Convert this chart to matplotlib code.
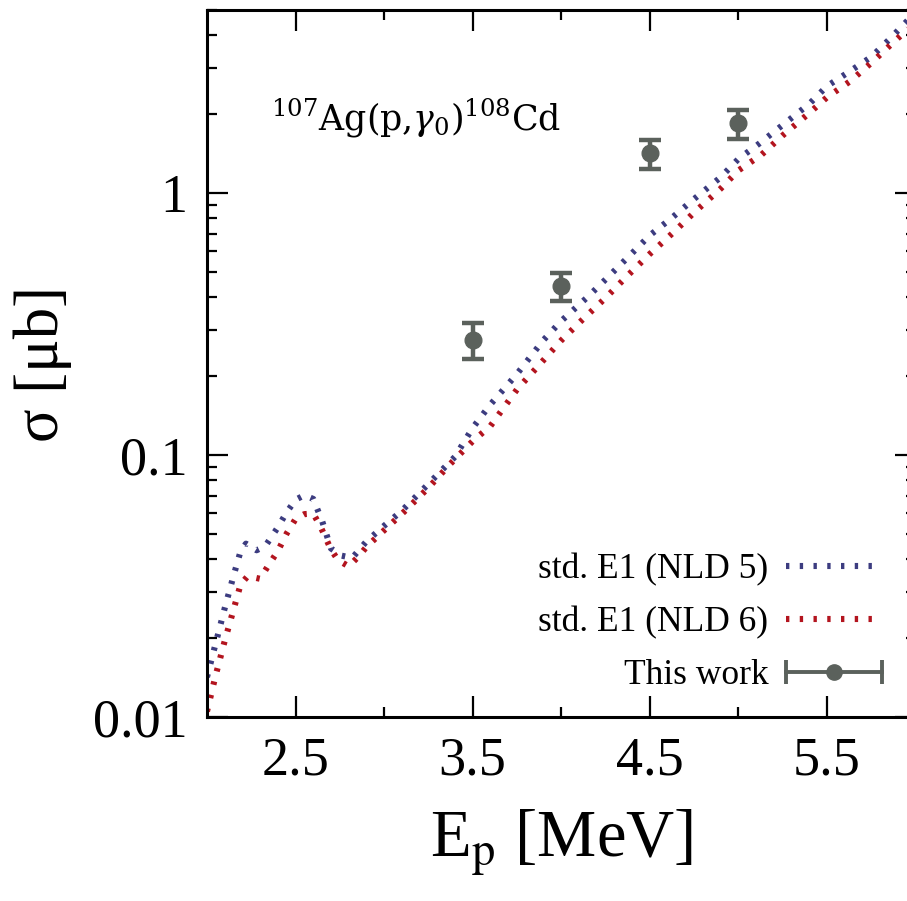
import matplotlib
matplotlib.use("Agg")
import matplotlib.pyplot as plt
from matplotlib.legend_handler import HandlerBase
from matplotlib.lines import Line2D
from matplotlib.ticker import NullFormatter

# standard E1 strength, level density model 5
e_nld5 = [2.0, 2.05, 2.1, 2.15, 2.19, 2.22, 2.28, 2.33, 2.4, 2.45, 2.5, 2.55, 2.6,
          2.65, 2.7, 2.76, 2.82, 2.9, 3.0, 3.1, 3.25, 3.4, 3.5, 3.6, 3.75, 3.9,
          4.0, 4.15, 4.25, 4.4, 4.5, 4.62, 4.75, 4.9, 5.0, 5.12, 5.25, 5.4, 5.5,
          5.63, 5.75, 5.85, 6.0]
sigma_nld5 = [0.0142, 0.0192, 0.026, 0.0346, 0.043, 0.0459, 0.0433, 0.045, 0.053,
              0.0605, 0.0675, 0.0703, 0.068, 0.056, 0.044, 0.0413, 0.0405, 0.0468,
              0.0537, 0.0613, 0.0776, 0.0985, 0.127, 0.156, 0.204, 0.275, 0.325,
              0.402, 0.468, 0.59, 0.69, 0.80, 0.95, 1.15, 1.35, 1.55, 1.82, 2.19,
              2.56, 2.92, 3.31, 3.85, 4.9]

# standard E1 strength, level density model 6
e_nld6 = [2.0, 2.05, 2.1, 2.15, 2.19, 2.23, 2.3, 2.34, 2.4, 2.45, 2.5, 2.55, 2.6,
          2.64, 2.7, 2.74, 2.8, 2.86, 2.9, 3.0, 3.12, 3.25, 3.37, 3.5, 3.6, 3.75,
          3.86, 4.0, 4.11, 4.25, 4.37, 4.5, 4.64, 4.75, 4.9, 5.0, 5.13, 5.25, 5.4,
          5.5, 5.63, 5.75, 5.85, 6.0]
sigma_nld6 = [0.0105, 0.0145, 0.0195, 0.0257, 0.0321, 0.0345, 0.0337, 0.0373,
              0.043, 0.0502, 0.057, 0.0595, 0.0598, 0.0535, 0.0436, 0.0397, 0.0376,
              0.0413, 0.0446, 0.0516, 0.0614, 0.075, 0.092, 0.113, 0.129, 0.178,
              0.215, 0.274, 0.324, 0.398, 0.481, 0.586, 0.715, 0.843, 1.04, 1.22,
              1.40, 1.66, 2.02, 2.32, 2.67, 3.14, 3.63, 4.5]

# measured cross sections
e_exp = [3.5, 4.0, 4.5, 5.0]
sigma_exp = [0.276, 0.441, 1.42, 1.85]
sigma_err = [0.044, 0.054, 0.18, 0.235]

x_major = [2.5, 3.5, 4.5, 5.5]
x_minor = [3.0, 4.0, 5.0]
y_major = [0.01, 0.1, 1]
y_major_labels = ["0.01", "0.1", "1"]

NAVY = "#3c3c80"
RED = "#b3141e"
GREY = "#5b615c"
SERIF = "Liberation Serif"


class HorizontalErrorbarHandler(HandlerBase):
    """Legend key drawn as a horizontal bar with end caps and a dot."""

    def create_artists(self, legend, orig_handle, xdescent, ydescent,
                       width, height, fontsize, trans):
        y = height / 2 - ydescent
        x0, x1 = -xdescent, -xdescent + width
        bar = Line2D([x0, x1], [y, y], color=GREY, lw=2.8)
        caps = Line2D([x0, x1], [y, y], ls="none", marker="|", ms=17,
                      mew=2.8, color=GREY)
        dot = Line2D([(x0 + x1) / 2], [y], ls="none", marker="o", ms=11,
                     color=GREY)
        for a in (bar, caps, dot):
            a.set_transform(trans)
        return [bar, caps, dot]


fig = plt.figure(figsize=(9.07, 9.01), dpi=100)
# right spine (E = 6 MeV) sits just past the figure edge
ax = fig.add_axes([0.2282, 0.2042, 0.7812, 0.7847])

dots = (0, (0.55, 1.7))
ax.plot(e_nld5, sigma_nld5, color=NAVY, lw=4.4, ls=dots,
        label="std. E1 (NLD 5)")
ax.plot(e_nld6, sigma_nld6, color=RED, lw=4.4, ls=dots,
        label="std. E1 (NLD 6)")
exp = ax.errorbar(e_exp, sigma_exp, yerr=sigma_err, fmt="o", color=GREY,
                  ms=12, elinewidth=3.2, capsize=8, capthick=3.2,
                  label="This work", zorder=5)

ax.set_yscale("log")
ax.set_xlim(2.0, 6.0)
ax.set_ylim(0.01, 5.0)

ax.set_xticks(x_major, labels=[f"{v:.1f}" for v in x_major])
ax.set_xticks(x_minor, minor=True)
ax.set_yticks(y_major, labels=y_major_labels)
ax.yaxis.set_minor_formatter(NullFormatter())

ax.tick_params(which="major", direction="in", length=15, width=1.6,
               top=True, right=True, labelsize=39, pad=14)
ax.tick_params(which="minor", direction="in", length=7, width=1.6,
               top=True, right=True)
for lab in ax.get_xticklabels() + ax.get_yticklabels():
    lab.set_family(SERIF)
for sp in ax.spines.values():
    sp.set_linewidth(2.2)

ax.set_xlabel(r"E$_\mathrm{p}$ [MeV]", family=SERIF, fontsize=48,
              math_fontfamily="stix")
ax.set_ylabel("σ [μb]", family=SERIF, fontsize=45)
ax.xaxis.set_label_coords(0.5, -0.128)
ax.yaxis.set_label_coords(-0.19, 0.5)

ax.text(0.09, 0.83, r"$^{107}$Ag(p,$\gamma_0$)$^{108}$Cd", transform=ax.transAxes,
        family="DejaVu Serif", math_fontfamily="dejavuserif", fontsize=25,
        ha="left", va="baseline")

leg = ax.legend(loc="lower right", bbox_to_anchor=(0.952, 0.035), frameon=False,
                markerfirst=False, prop={"family": SERIF, "size": 25.5},
                handlelength=2.7, handletextpad=0.5, labelspacing=0.56,
                borderpad=0, borderaxespad=0,
                handler_map={exp: HorizontalErrorbarHandler()})

fig.savefig("out.png", dpi=100)
